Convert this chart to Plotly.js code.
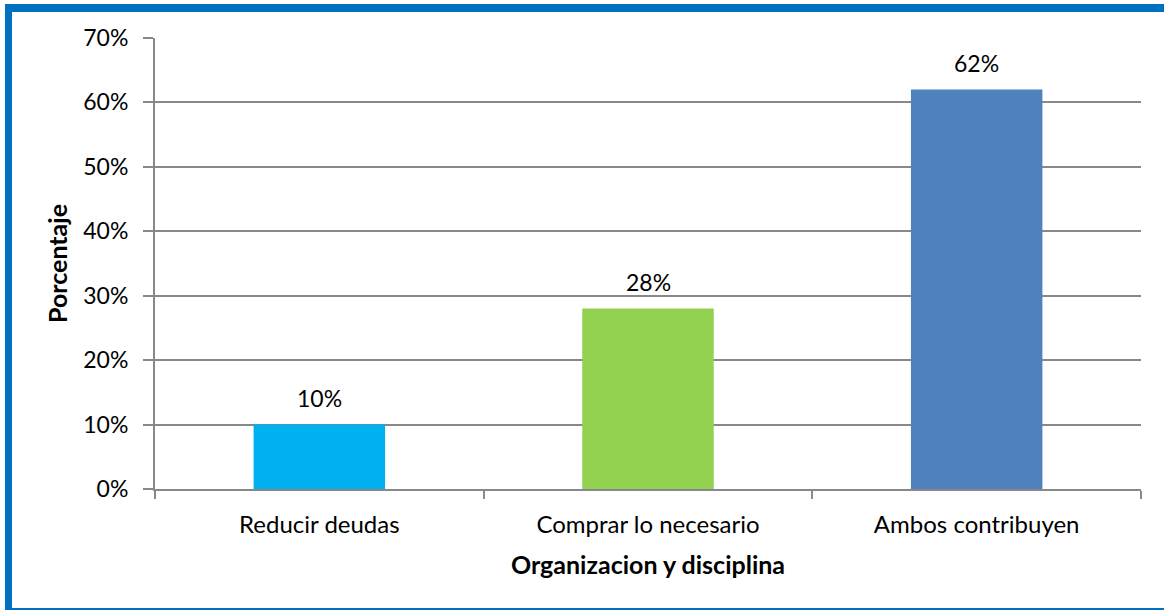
<!DOCTYPE html>
<html>
<head>
<meta charset="utf-8">
<script src="https://cdn.plot.ly/plotly-3.0.1.min.js"></script>
<style>
  html, body { margin: 0; padding: 0; background: #fff; overflow: hidden; }
  #wrap { position: relative; width: 1164px; height: 610px; }
  #chart { position: absolute; left: 0; top: 0; width: 1164px; height: 610px; }
  #frame { position: absolute; left: 5px; top: 4px; width: 1170px; height: 612px;
           box-sizing: border-box; border-left: 7px solid #0070C0; border-top: 8px solid #0070C0;
           border-bottom: 8px solid #0070C0; pointer-events: none; }
</style>
</head>
<body>
<div id="wrap">
  <div id="chart"></div>
  <div id="frame"></div>
</div>
<script>
const categories = ["Reducir deudas", "Comprar lo necesario", "Ambos contribuyen"];
const values = [0.10, 0.28, 0.62];
const barColors = ["#00B0F0", "#92D050", "#4F81BD"];
const yTickVals = [0, 0.1, 0.2, 0.3, 0.4, 0.5, 0.6, 0.7];
const yTickText = ["0%", "10%", "20%", "30%", "40%", "50%", "60%", "70%"];

const FONT = "Lato, 'Open Sans', sans-serif";
const FS = 23;
const axisGray = "#888888";

const trace = {
  type: "bar",
  x: categories,
  y: values,
  marker: { color: barColors },
  width: 0.4,
  hoverinfo: "none"
};

const annotations = categories.map((c, i) => ({
  x: c, y: values[i], xref: "x", yref: "y",
  text: Math.round(values[i] * 100) + "%",
  showarrow: false, yanchor: "bottom", yshift: 11,
  font: { family: FONT, size: FS, color: "#000" }
}));

const layout = {
  width: 1164, height: 610,
  margin: { l: 155, r: 23, t: 38, b: 121 },
  paper_bgcolor: "rgba(0,0,0,0)",
  plot_bgcolor: "#fff",
  showlegend: false,
  font: { family: FONT, size: FS, color: "#000" },
  xaxis: {
    type: "category",
    showline: true, linecolor: axisGray, linewidth: 2,
    ticks: "outside", tickson: "boundaries", ticklen: 8, tickcolor: axisGray, tickwidth: 2,
    ticklabelstandoff: 13,
    showgrid: false,
    tickfont: { family: FONT, size: 24, color: "#000" },
    title: { text: "<b>Organizacion y disciplina</b>", font: { family: FONT, size: 25, color: "#000" }, standoff: 20 }
  },
  yaxis: {
    range: [0, 0.7],
    tickvals: yTickVals, ticktext: yTickText,
    showline: true, linecolor: axisGray, linewidth: 2,
    ticks: "outside", ticklen: 10, tickcolor: axisGray, tickwidth: 2,
    ticklabelstandoff: 10,
    showgrid: true, gridcolor: axisGray, gridwidth: 2,
    zeroline: false,
    tickfont: { family: FONT, size: FS, color: "#000" },
    title: { text: "<b>Porcentaje</b>", font: { family: FONT, size: 25, color: "#000" }, standoff: 9 }
  },
  annotations: annotations
};

Plotly.newPlot("chart", [trace], layout, { staticPlot: true, displayModeBar: false });
</script>
</body>
</html>
